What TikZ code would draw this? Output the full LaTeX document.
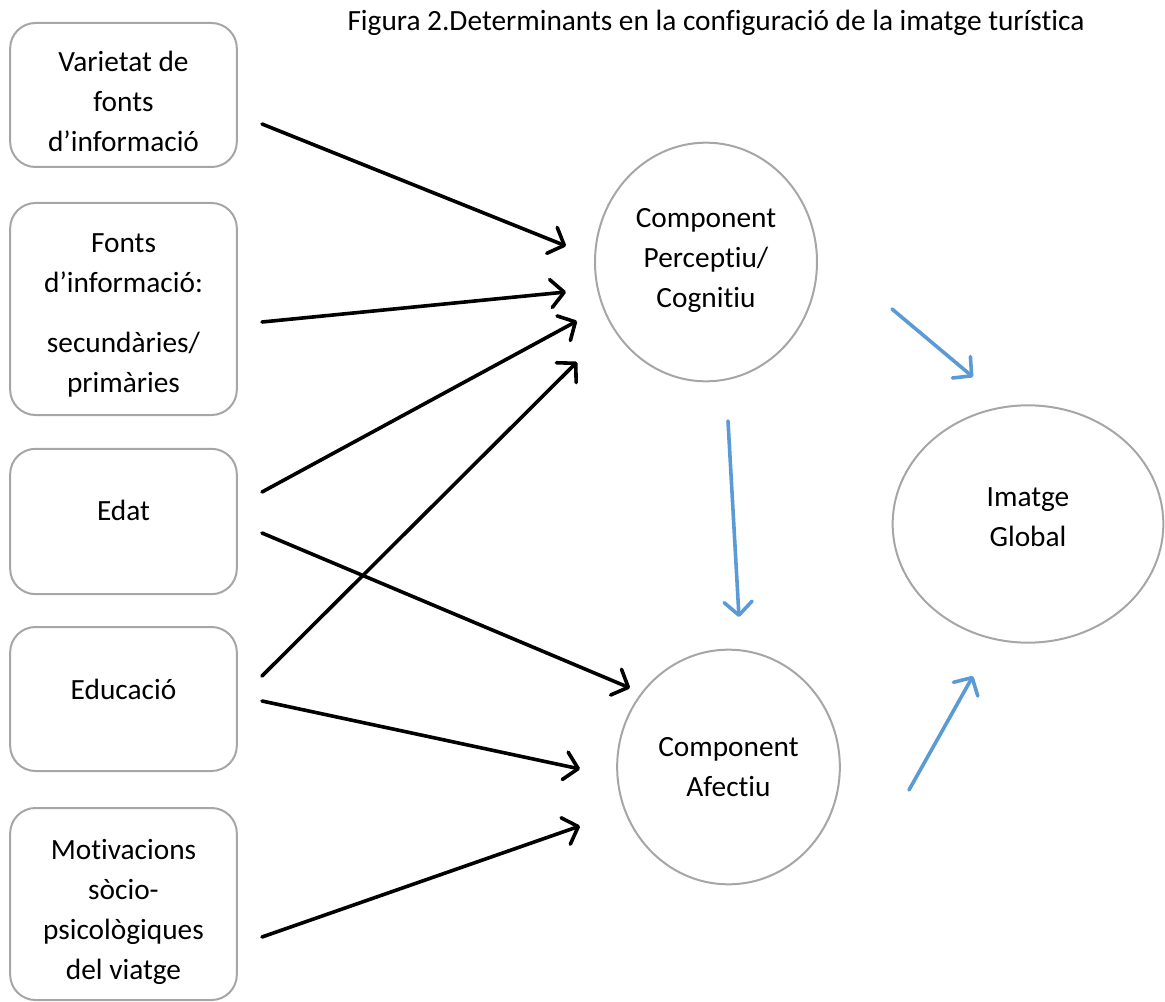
\documentclass[tikz,border=0pt]{standalone}
\usepackage{fontspec}
\setmainfont{Carlito}[Ligatures=NoCommon]
\usetikzlibrary{shapes.geometric,arrows.meta}
\definecolor{edge}{HTML}{A6A6A6}
\definecolor{officeblue}{HTML}{5B9BD5}
\tikzset{
  srcbox/.style={draw=edge, line width=1.5pt, rounded corners=19pt, minimum width=170pt, inner sep=0pt},
  comp/.style={draw=edge, line width=1.5pt, ellipse, inner sep=0pt},
  txt/.style={align=center, inner sep=0pt, font=\fontsize{22}{30}\selectfont},
  blk/.style={line width=2.7pt, line cap=round, -{Straight Barb[length=10pt,width=21pt,line cap=round,line join=round]}},
  blu/.style={officeblue, line width=2.7pt, line cap=round, -{Straight Barb[length=10pt,width=21pt,line cap=round,line join=round]}},
}
\begin{document}
\begin{tikzpicture}[x=0.75pt,y=-0.75pt]
\useasboundingbox (0,0) rectangle (1165,1002);
\node[font=\fontsize{22}{26}\selectfont, anchor=base] (title) at (716,31) {Figura 2.Determinants en la configuració de la imatge turística};

\node[srcbox, minimum height=108pt] (b1) at (123.5,95) {};
\node[srcbox, minimum height=159pt] (b2) at (123.5,309) {};
\node[srcbox, minimum height=109pt] (b3) at (123.5,521.5) {};
\node[srcbox, minimum height=108pt] (b4) at (123.5,699) {};
\node[srcbox, minimum height=144pt] (b5) at (123.5,904) {};

\node[txt] (t1) at ([yshift=-5pt]b1.center) {Varietat de\\fonts\\d’informació};
\node[txt] (t2) at ([yshift=-4.5pt]b2.center) {Fonts\\d’informació:\\[15pt]secundàries/\\primàries};
\node[txt] (t3) at ([yshift=8pt]b3.center) {Edat};
\node[txt] (t4) at ([yshift=7.5pt]b4.center) {Educació};
\node[txt] (t5) at ([yshift=-6pt]b5.center) {Motivacions\\sòcio-\\psicològiques\\del viatge};

\node[comp, minimum width=166.5pt, minimum height=179pt] (c1) at (706,262) {};
\node[comp, minimum width=167pt, minimum height=176pt] (c2) at (728.5,767) {};
\node[comp, minimum width=203pt, minimum height=178pt] (c3) at (1028,524) {};

\node[txt] (t6) at ([yshift=1pt]c1.center) {Component\\Perceptiu/\\Cognitiu};
\node[txt] (t7) at (c2.center) {Component\\Afectiu};
\node[txt] (t8) at ([yshift=5pt]c3.center) {Imatge\\Global};

\coordinate (s1) at (262,124);  \coordinate (e1) at (566,246);
\coordinate (s2) at (262,322);  \coordinate (e2) at (566,292);
\coordinate (s3) at (262,492);  \coordinate (e3) at (577,321);
\coordinate (s4) at (262,676);  \coordinate (e4) at (577,362);
\coordinate (s5) at (262,533);  \coordinate (e5) at (630,688);
\coordinate (s6) at (262,701);  \coordinate (e6) at (580,769);
\coordinate (s7) at (262,937);  \coordinate (e7) at (580,826);
\coordinate (s8) at (728,421);  \coordinate (e8) at (739,617);
\coordinate (s9) at (892,309);  \coordinate (e9) at (973,377);
\coordinate (s10) at (909,790); \coordinate (e10) at (973,676);

\draw[blk] (s1) -- (e1);
\draw[blk] (s2) -- (e2);
\draw[blk] (s3) -- (e3);
\draw[blk] (s4) -- (e4);
\draw[blk] (s5) -- (e5);
\draw[blk] (s6) -- (e6);
\draw[blk] (s7) -- (e7);
\draw[blu] (s8) -- (e8);
\draw[blu] (s9) -- (e9);
\draw[blu] (s10) -- (e10);
\end{tikzpicture}
\end{document}
